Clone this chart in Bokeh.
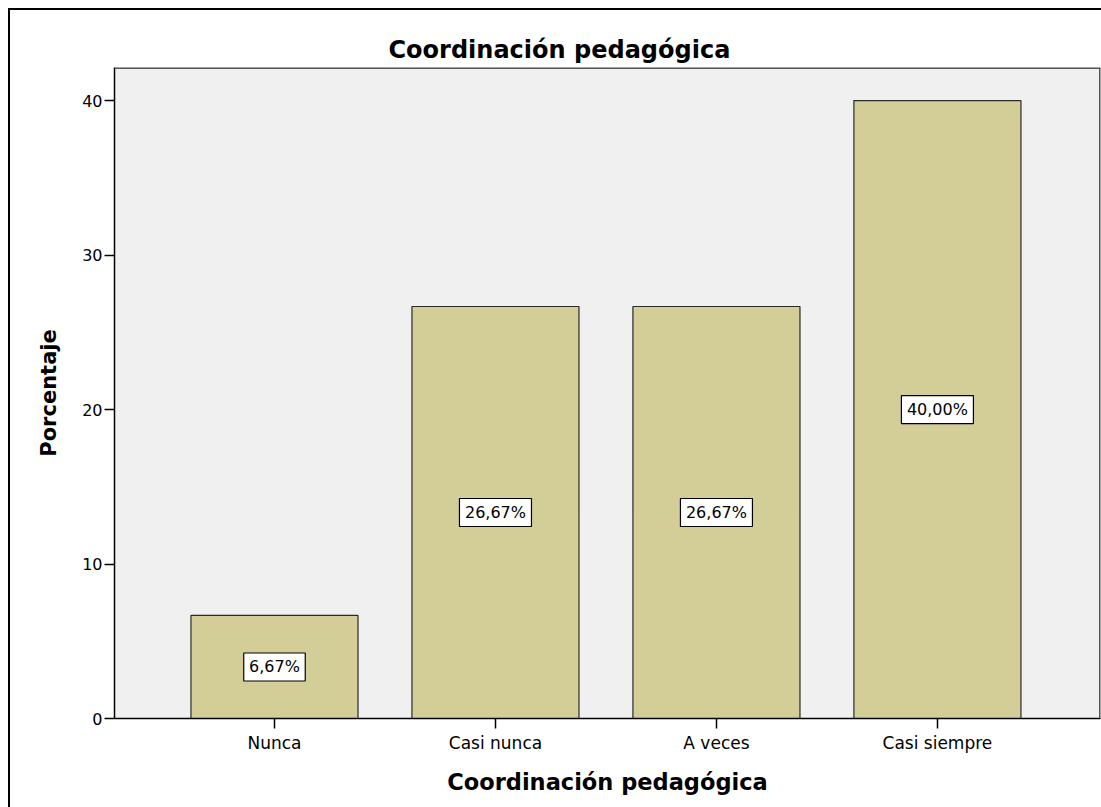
from bokeh.plotting import figure
from bokeh.layouts import column
from bokeh.models import ColumnDataSource, Range1d, FixedTicker, Span
from bokeh.core.properties import value
from bokeh.embed import file_html
from bokeh.resources import INLINE

categories = ["Nunca", "Casi nunca", "A veces", "Casi siempre"]
percentages = [6.67, 26.67, 26.67, 40.00]
y_ticks = [0, 10, 20, 30, 40]

xs = list(range(1, len(categories) + 1))
labels = [f"{v:.2f}".replace(".", ",") + "%" for v in percentages]
mids = [v / 2 for v in percentages]
box_w = [10.5 * len(s) + 9 for s in labels]

src = ColumnDataSource(dict(x=xs, top=percentages, mid=mids, label=labels, bw=box_w))

X0, X1, Y1 = 0.276, 4.738, 42.14
p = figure(width=1091, height=797, output_backend="svg", toolbar_location=None,
           x_range=Range1d(X0, X1), y_range=Range1d(0, Y1),
           min_border_left=104, min_border_top=57, min_border_right=1, min_border_bottom=89)

p.vbar(x="x", top="top", width=0.756, source=src, fill_color="#D3CE98",
       line_color="#2a2a2a", line_width=1.2)

p.rect(x="x", y="mid", width="bw", height=28, width_units="screen", height_units="screen",
       source=src, fill_color="white", line_color="black", line_width=1.2)
p.text(x="x", y="mid", text="label", source=src, text_align="center", text_baseline="middle",
       text_font=value("DejaVu Sans"), text_font_size="16px", text_color="black")

p.title.text = "Coordinación pedagógica"
p.title.align = "left"
p.title.offset = 274
p.title.text_font = "DejaVu Sans"
p.title.text_font_size = "24px"
p.title.text_font_style = "bold"
p.title.text_color = "black"
p.title.standoff = 8

p.background_fill_color = "#F0F0F0"
p.border_fill_color = "white"
p.outline_line_color = None
p.add_layout(Span(location=Y1, dimension="width", line_color="#555555", line_width=3))
p.add_layout(Span(location=X1, dimension="height", line_color="#555555", line_width=3))
p.xgrid.visible = False
p.ygrid.visible = False

p.xaxis.ticker = FixedTicker(ticks=xs)
p.xaxis.major_label_overrides = {x: c for x, c in zip(xs, categories)}
p.xaxis.minor_tick_line_color = None
p.xaxis.major_tick_in = 0
p.xaxis.major_tick_out = 10
p.xaxis.major_label_standoff = 4
p.xaxis.major_label_text_font = "DejaVu Sans"
p.xaxis.major_label_text_font_size = "17px"
p.xaxis.axis_label = "Coordinación pedagógica"
p.xaxis.axis_label_text_font = "DejaVu Sans"
p.xaxis.axis_label_text_font_size = "22.5px"
p.xaxis.axis_label_text_font_style = "bold"
p.xaxis.axis_label_standoff = 13

p.yaxis.ticker = FixedTicker(ticks=y_ticks)
p.yaxis.minor_tick_line_color = None
p.yaxis.major_tick_in = 0
p.yaxis.major_tick_out = 10
p.yaxis.major_label_standoff = 2
p.yaxis.major_label_text_font = "DejaVu Sans"
p.yaxis.major_label_text_font_size = "16px"
p.yaxis.axis_label = "Porcentaje"
p.yaxis.axis_label_text_font = "DejaVu Sans"
p.yaxis.axis_label_text_font_size = "21px"
p.yaxis.axis_label_text_font_style = "bold"
p.yaxis.axis_label_standoff = 18

for ax in (p.xaxis, p.yaxis):
    ax.axis_line_color = "black"
    ax.axis_line_width = 1.5
    ax.major_tick_line_color = "black"
    ax.major_tick_line_width = 1.5
    ax.major_label_text_color = "black"
    ax.axis_label_text_color = "black"

layout = column(p, styles={"margin-left": "8px", "margin-top": "8px",
                           "border-left": "2px solid black", "border-top": "2px solid black"})

open("out.html", "w").write(file_html(layout, INLINE))
